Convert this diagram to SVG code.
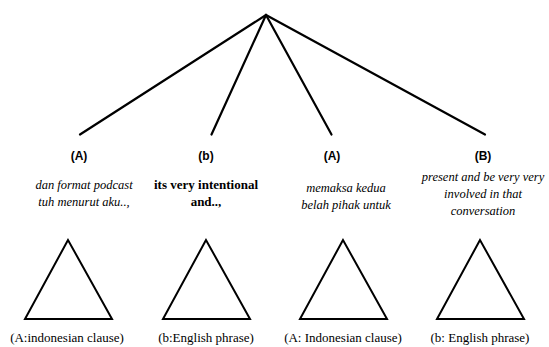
<svg xmlns="http://www.w3.org/2000/svg" width="549" height="347" viewBox="0 0 549 347">
<defs>
<polygon id="tri" points="0,0 -43,79 44,79" fill="#fff" stroke="#000" stroke-width="2"/>
</defs>
<rect width="549" height="347" fill="#fff"/>
<g id="connectors" stroke="#000" stroke-width="2.2" stroke-linecap="round">
<line x1="266" y1="15" x2="80" y2="134.5"/>
<line x1="266" y1="15" x2="211.5" y2="134.5"/>
<line x1="266" y1="15" x2="331.5" y2="134.5"/>
<line x1="266" y1="15" x2="485" y2="134.5"/>
</g>
<g id="node1">
<text x="79" y="160" text-anchor="middle" style="font-family:'Liberation Sans',sans-serif;font-weight:bold;font-size:12px">(A)</text>
<text x="84" y="189" text-anchor="middle" style="font-family:'Liberation Serif',serif;font-style:italic;font-size:12.5px">dan format podcast</text>
<text x="84" y="206" text-anchor="middle" style="font-family:'Liberation Serif',serif;font-style:italic;font-size:12.5px">tuh menurut aku..,</text>
<use href="#tri" x="68" y="240"/>
<text x="67" y="342" text-anchor="middle" style="font-family:'Liberation Serif',serif;font-size:13px">(A:indonesian clause)</text>
</g>
<g id="node2">
<text x="206" y="160" text-anchor="middle" style="font-family:'Liberation Sans',sans-serif;font-weight:bold;font-size:12px">(b)</text>
<text x="206" y="189" text-anchor="middle" style="font-family:'Liberation Serif',serif;font-weight:bold;font-size:13px">its very intentional</text>
<text x="206" y="206" text-anchor="middle" style="font-family:'Liberation Serif',serif;font-weight:bold;font-size:13px">and..,</text>
<use href="#tri" x="206" y="240"/>
<text x="206" y="342" text-anchor="middle" style="font-family:'Liberation Serif',serif;font-size:13px">(b:English phrase)</text>
</g>
<g id="node3">
<text x="332" y="160" text-anchor="middle" style="font-family:'Liberation Sans',sans-serif;font-weight:bold;font-size:12px">(A)</text>
<text x="346" y="192" text-anchor="middle" style="font-family:'Liberation Serif',serif;font-style:italic;font-size:12.5px">memaksa kedua</text>
<text x="346" y="209" text-anchor="middle" style="font-family:'Liberation Serif',serif;font-style:italic;font-size:12.5px">belah pihak untuk</text>
<use href="#tri" x="343" y="240"/>
<text x="343" y="342" text-anchor="middle" style="font-family:'Liberation Serif',serif;font-size:13px">(A: Indonesian clause)</text>
</g>
<g id="node4">
<text x="483" y="160" text-anchor="middle" style="font-family:'Liberation Sans',sans-serif;font-weight:bold;font-size:12px">(B)</text>
<text x="483" y="181" text-anchor="middle" style="font-family:'Liberation Serif',serif;font-style:italic;font-size:12.5px">present and be very very</text>
<text x="483" y="198" text-anchor="middle" style="font-family:'Liberation Serif',serif;font-style:italic;font-size:12.5px">involved in that</text>
<text x="483" y="215" text-anchor="middle" style="font-family:'Liberation Serif',serif;font-style:italic;font-size:12.5px">conversation</text>
<use href="#tri" x="480" y="240"/>
<text x="480" y="342" text-anchor="middle" style="font-family:'Liberation Serif',serif;font-size:13px">(b: English phrase)</text>
</g>
</svg>
